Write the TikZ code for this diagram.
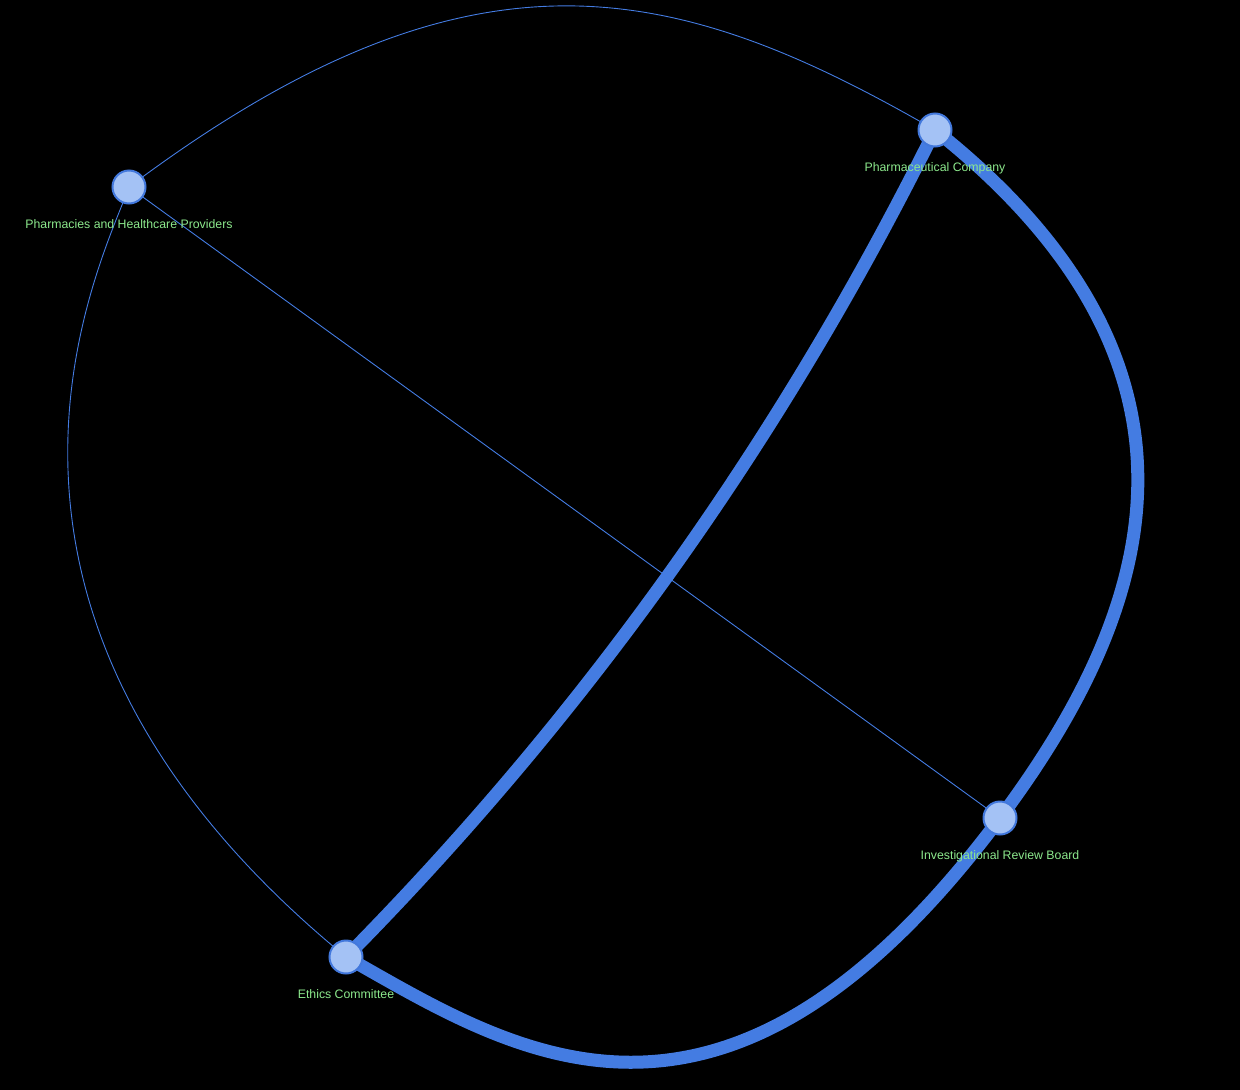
\documentclass[tikz,border=0pt]{standalone}
\usepackage{fontspec}
\setmainfont{Liberation Sans}
\usetikzlibrary{backgrounds}
\definecolor{linkblue}{RGB}{68,124,226}
\definecolor{nodefill}{RGB}{164,194,245}
\definecolor{nodeline}{RGB}{66,120,220}
\definecolor{lblgreen}{RGB}{140,232,140}

\begin{document}
\begin{tikzpicture}[
    x=1pt, y=-1pt,
    entity/.style={circle, draw=nodeline, line width=2pt, fill=nodefill, minimum size=33pt, inner sep=0pt},
    lbl/.style={text=lblgreen, font=\fontsize{12.3}{14}\selectfont, inner sep=0pt},
    thinlink/.style={draw=linkblue, line width=0.9pt},
    thicklink/.style={draw=linkblue, line width=13pt}
]
    \useasboundingbox (0,0) rectangle (1240,1090);

    % Entities
    \node[entity, label={[lbl, label distance=15pt]below:Pharmacies and Healthcare Providers}] (pharmacies) at (129,187) {};
    \node[entity, label={[lbl, label distance=15pt]below:Pharmaceutical Company}] (pharma) at (935,130) {};
    \node[entity, label={[lbl, label distance=15pt]below:Ethics Committee}] (ethics) at (346,957) {};
    \node[entity, label={[lbl, label distance=15pt]below:Investigational Review Board}] (irb) at (1000,818) {};

    \begin{scope}[on background layer]
        \fill[black] (0,0) rectangle (1240,1090);

        % Thin links
        \draw[thinlink] (pharmacies.center) .. controls (472,-70) and (675,-20) .. (pharma.center);
        \draw[thinlink] (pharmacies.center) .. controls (102,262) and (-79,609) .. (ethics.center);
        \draw[thinlink] (pharmacies.center) -- (irb.center);

        % Thick links
        \draw[thicklink] (pharma.center) .. controls (783,437) and (587,713) .. (ethics.center);
        \draw[thicklink] (pharma.center) .. controls (1236,369) and (1153,613) .. (irb.center);
        \draw[thicklink] (irb.center) .. controls (721,1191) and (511,1050) .. (ethics.center);
    \end{scope}
\end{tikzpicture}
\end{document}
